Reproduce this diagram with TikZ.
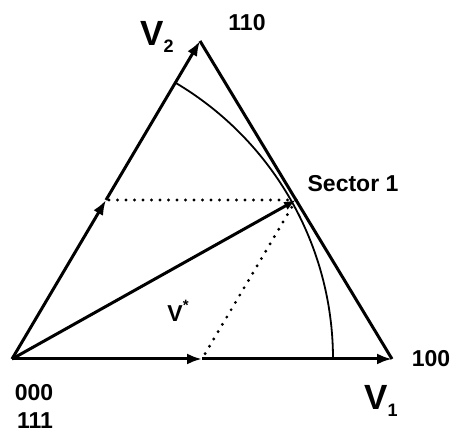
\documentclass[tikz,border=0pt]{standalone}
\usepackage{fontspec}
\setmainfont{Liberation Sans}
\usetikzlibrary{arrows.meta, calc}

% space-vector labels: big V with a lowered index, and V with a star
\newcommand{\vlab}[1]{{\fontsize{35}{35}\selectfont V}\raisebox{-0.3em}{\fontsize{18}{18}\selectfont #1}}
\newcommand{\vstarlab}{{\fontsize{23}{23}\selectfont V}\raisebox{0.45em}{\fontsize{15}{15}\selectfont *}}

\begin{document}
\begin{tikzpicture}[
  x=1pt, y=1pt,
  >={Latex[length=15pt, width=11pt]},
  every node/.style={inner sep=0pt, font=\fontsize{23}{23}\selectfont\bfseries},
  axis/.style ={->, line width=3pt},
  side/.style ={line width=3pt},
  circ/.style ={line width=1.8pt},
  proj/.style ={line width=3.2pt, line cap=round, dash pattern=on 0pt off 8.5pt},
]
\useasboundingbox (0,0) rectangle (452,435);

% ---- corners of sector 1 ---------------------------------------------------
\coordinate (O)  at (12,76);
\coordinate (V1) at (392,76);
\coordinate (V2) at (200,394);
\coordinate (P)  at ($(V2)!0.5!(V1)$);
% components of the reference vector along V1 and V2
\coordinate (A) at ($(O)!0.5!(V2)$);
\coordinate (B) at ($(P)-(A)+(O)$);

% ---- triangle and vectors --------------------------------------------------
\draw[axis] (O) -- (A);
\draw[axis] (A) -- (V2);
\draw[axis] (O) -- (B);
\draw[axis] (B) -- (V1);
\draw[side] (V2) -- (V1);
\draw[->, line width=3pt, >={Latex[length=12pt, width=9pt]}] (O) -- (P);

% circle of maximum output
\draw[circ] ($(O)+(321,0)$) arc[start angle=0, end angle=59.4, radius=321];

% projections
\draw[proj] (P) -- (A);
\draw[proj] (P) -- (B);

% ---- labels ----------------------------------------------------------------
\node (v2lab)  at (157,398) {\vlab{2}};
\node (c110)   at (247,412) {110};
\node (sector) at (353,251) {Sector 1};
\node (vstar)  at (178,124) {\vstarlab};
\node (c000)   at (34,42)   {000};
\node (c111)   at (35,14)   {111};
\node (c100)   at (431,76)  {100};
\node (v1lab)  at (381,34)  {\vlab{1}};
\end{tikzpicture}
\end{document}
